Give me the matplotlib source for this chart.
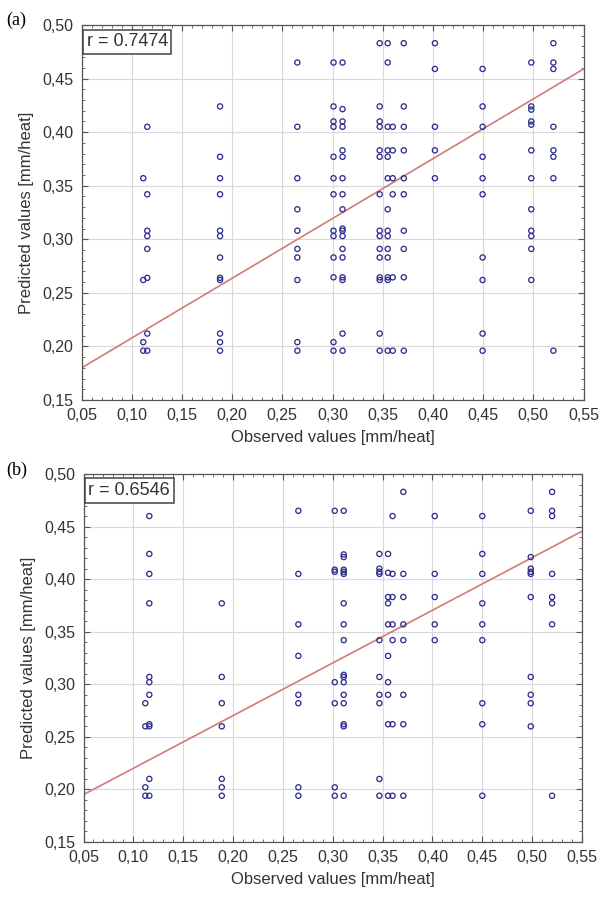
import numpy as np
import matplotlib
matplotlib.use("Agg")
import matplotlib.pyplot as plt
from matplotlib.ticker import AutoMinorLocator

plt.rcParams['font.family'] = ['Liberation Sans', 'DejaVu Sans']

# observed value of each column of points, and the predicted values found in it
obs_a = [0.1115, 0.1155, 0.188, 0.265, 0.301, 0.310, 0.347, 0.355, 0.360,
         0.371, 0.402, 0.4495, 0.498, 0.520]
pred_a = [
    [0.357, 0.262, 0.204, 0.196],
    [0.405, 0.342, 0.308, 0.303, 0.291, 0.264, 0.212, 0.196],
    [0.424, 0.377, 0.357, 0.342, 0.308, 0.303, 0.283, 0.264, 0.262, 0.212, 0.204, 0.196],
    [0.465, 0.405, 0.357, 0.328, 0.308, 0.291, 0.283, 0.262, 0.204, 0.196],
    [0.465, 0.424, 0.410, 0.405, 0.377, 0.357, 0.342, 0.308, 0.303, 0.283, 0.2645, 0.204, 0.196],
    [0.465, 0.4215, 0.410, 0.405, 0.383, 0.377, 0.357, 0.342, 0.328, 0.310, 0.308, 0.303,
     0.291, 0.283, 0.2645, 0.262, 0.212, 0.196],
    [0.483, 0.424, 0.410, 0.405, 0.383, 0.377, 0.342, 0.308, 0.303, 0.291, 0.283, 0.2645,
     0.262, 0.212, 0.196],
    [0.483, 0.465, 0.405, 0.383, 0.377, 0.357, 0.328, 0.308, 0.303, 0.291, 0.283, 0.2645,
     0.262, 0.196],
    [0.405, 0.383, 0.357, 0.342, 0.2645, 0.196],
    [0.483, 0.424, 0.405, 0.383, 0.357, 0.342, 0.308, 0.291, 0.2645, 0.196],
    [0.483, 0.459, 0.405, 0.383, 0.357],
    [0.459, 0.424, 0.405, 0.377, 0.357, 0.342, 0.283, 0.262, 0.212, 0.196],
    [0.465, 0.424, 0.421, 0.410, 0.407, 0.383, 0.357, 0.328, 0.308, 0.303, 0.291, 0.262],
    [0.483, 0.465, 0.459, 0.405, 0.383, 0.377, 0.357, 0.196],
]

obs_b = [0.112, 0.116, 0.1887, 0.2655, 0.302, 0.311, 0.3468, 0.3555, 0.360,
         0.3708, 0.4023, 0.450, 0.4986, 0.520]
pred_b = [
    [0.282, 0.260, 0.202, 0.194],
    [0.460, 0.424, 0.405, 0.377, 0.307, 0.302, 0.290, 0.262, 0.260, 0.210, 0.194],
    [0.377, 0.307, 0.282, 0.260, 0.210, 0.202, 0.194],
    [0.465, 0.405, 0.357, 0.327, 0.290, 0.282, 0.202, 0.194],
    [0.465, 0.409, 0.407, 0.302, 0.282, 0.202, 0.194],
    [0.465, 0.4235, 0.421, 0.409, 0.407, 0.405, 0.377, 0.357, 0.342, 0.309, 0.307, 0.302,
     0.290, 0.282, 0.262, 0.260, 0.194],
    [0.424, 0.410, 0.407, 0.405, 0.342, 0.307, 0.290, 0.282, 0.210, 0.194],
    [0.424, 0.406, 0.383, 0.377, 0.357, 0.327, 0.302, 0.290, 0.262, 0.194],
    [0.460, 0.405, 0.383, 0.357, 0.342, 0.262, 0.194],
    [0.483, 0.405, 0.383, 0.357, 0.342, 0.290, 0.262, 0.194],
    [0.460, 0.405, 0.383, 0.357, 0.342],
    [0.460, 0.424, 0.405, 0.377, 0.357, 0.342, 0.282, 0.262, 0.194],
    [0.465, 0.421, 0.410, 0.407, 0.405, 0.383, 0.307, 0.290, 0.282, 0.260],
    [0.483, 0.465, 0.460, 0.405, 0.383, 0.377, 0.357, 0.194],
]

# fitted lines: intercept, slope
fit_a = (0.152, 0.558)
fit_b = (0.170, 0.501)
r_a = "0.7474"
r_b = "0.6546"

x_ticks = [0.05, 0.10, 0.15, 0.20, 0.25, 0.30, 0.35, 0.40, 0.45, 0.50, 0.55]
y_ticks = [0.15, 0.20, 0.25, 0.30, 0.35, 0.40, 0.45, 0.50]


def flatten(obs, pred):
    xs = np.concatenate([[o] * len(p) for o, p in zip(obs, pred)])
    ys = np.concatenate(pred)
    return xs, ys


def comma(v):
    return f"{v:.2f}".replace(".", ",")


def draw_panel(ax, obs, pred, fit, r_text):
    xs, ys = flatten(obs, pred)
    ax.set_xlim(x_ticks[0], x_ticks[-1])
    ax.set_ylim(y_ticks[0], y_ticks[-1])
    ax.grid(True, color='#d9d9d9', lw=0.8, zorder=0)
    ax.set_axisbelow(True)

    lx = np.array([x_ticks[0], x_ticks[-1]])
    ax.plot(lx, fit[0] + fit[1] * lx, color='#d27a78', lw=1.2, zorder=2)
    ax.scatter(xs, ys, s=14, facecolors='none', edgecolors='#30308f',
               linewidths=0.95, zorder=3)

    ax.set_xticks(x_ticks)
    ax.set_xticklabels([comma(v) for v in x_ticks])
    ax.set_yticks(y_ticks)
    ax.set_yticklabels([comma(v) for v in y_ticks])
    ax.xaxis.set_minor_locator(AutoMinorLocator(5))
    ax.yaxis.set_minor_locator(AutoMinorLocator(5))
    ax.tick_params(which='both', direction='in', top=True, right=True,
                   colors='#555555', labelcolor='#333333', labelsize=11.5)
    ax.tick_params(which='major', length=4, width=0.8)
    ax.tick_params(which='minor', length=2, width=0.6)
    ax.tick_params(axis='x', which='major', pad=6)
    ax.tick_params(axis='y', which='major', pad=6)
    for s in ax.spines.values():
        s.set_color('#555555')
        s.set_linewidth(0.9)

    ax.set_xlabel("Observed values [mm/heat]", fontsize=12, color='#333333', labelpad=5)
    ax.set_ylabel("Predicted values [mm/heat]", fontsize=12, color='#333333', labelpad=6)
    ax.text(0.01, 0.978, f"r = {r_text}", transform=ax.transAxes, ha='left', va='top',
            fontsize=13, color='#333333', zorder=5,
            bbox=dict(boxstyle='square,pad=0.2', fc='white', ec='#444444', lw=1.1))


fig = plt.figure(figsize=(6.02, 8.98), dpi=100)
ax_a = fig.add_axes([81.5 / 602, 1 - 400 / 898, 502 / 602, 375 / 898])
ax_b = fig.add_axes([83.5 / 602, 1 - 842 / 898, 498.5 / 602, 368 / 898])

draw_panel(ax_a, obs_a, pred_a, fit_a, r_a)
draw_panel(ax_b, obs_b, pred_b, fit_b, r_b)

fig.text(6 / 602, 1 - 20 / 898, "(a)", family=['Liberation Serif', 'DejaVu Serif'],
         fontsize=13, va='center', ha='left')
fig.text(6 / 602, 1 - 470 / 898, "(b)", family=['Liberation Serif', 'DejaVu Serif'],
         fontsize=13, va='center', ha='left')

fig.savefig("out.png", dpi=100)
